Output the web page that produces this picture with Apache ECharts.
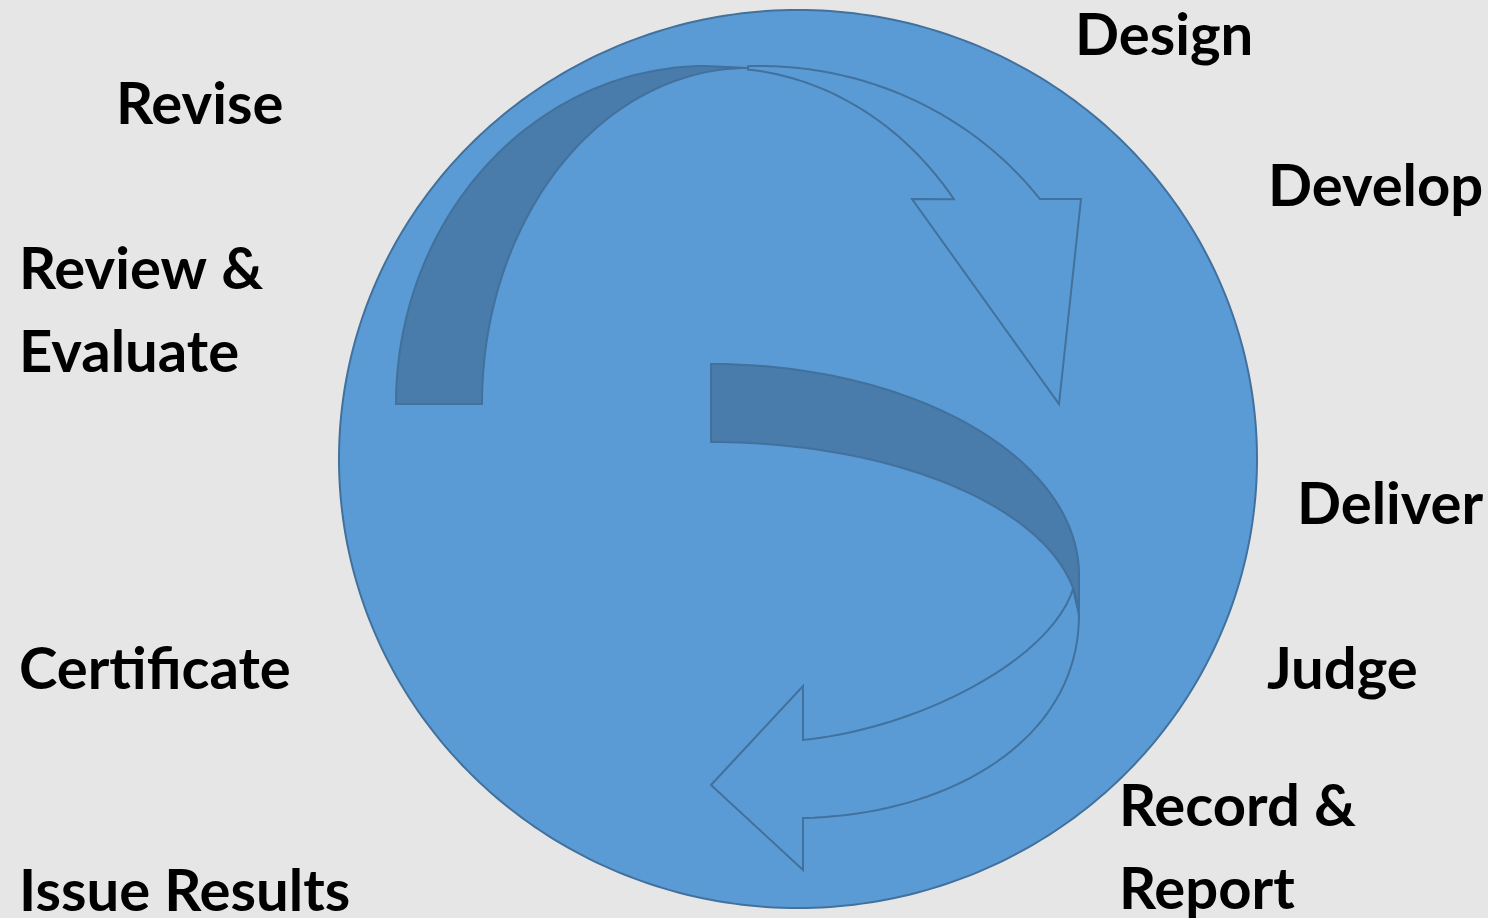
<!DOCTYPE html>
<html>
<head>
<meta charset="utf-8">
<script src="https://cdn.jsdelivr.net/npm/echarts@6/dist/echarts.min.js"></script>
<style>
  html, body { margin: 0; padding: 0; background: #e7e6e6; }
  #main { width: 1488px; height: 918px; }
</style>
</head>
<body>
<div id="main"></div>
<script>
'use strict';
// stage names round the cycle (clockwise from the top)
var stageLabels = ['Design', 'Develop', 'Deliver', 'Judge', 'Record &\nReport',
                   'Issue Results', 'Certificate', 'Review &\nEvaluate', 'Revise'];
// left edge / first baseline of each label, in page pixels
var labelAnchors = [[1075, 56], [1268, 207], [1297, 525], [1267, 690], [1119, 827],
                    [19, 912], [19, 690], [19, 290], [116, 125]];
// shapes of the diagram, drawn in this order
var shapeNames = ['circle', 'topArrowFront', 'topArrowBack', 'lowArrowFront', 'lowArrowBack'];

var FILL = '#5b9bd5', EDGE = '#41719c', SHADE = '#497caa';

// points along an ellipse between two points (cw = clockwise on screen)
function arc(cx, cy, rx, ry, p0, p1, cw, n) {
    n = n || 60;
    var a0 = Math.atan2((p0[1] - cy) / ry, (p0[0] - cx) / rx);
    var a1 = Math.atan2((p1[1] - cy) / ry, (p1[0] - cx) / rx);
    if (cw && a1 <= a0) a1 += Math.PI * 2;
    if (!cw && a1 >= a0) a1 -= Math.PI * 2;
    var pts = [];
    for (var i = 0; i <= n; i++) {
        var a = a0 + (a1 - a0) * i / n;
        pts.push([cx + rx * Math.cos(a), cy + ry * Math.sin(a)]);
    }
    return pts;
}
function ellipse(cx, cy, rx, ry, n) {
    var pts = [];
    for (var i = 0; i < n; i++) {
        var a = Math.PI * 2 * i / n;
        pts.push([cx + rx * Math.cos(a), cy + ry * Math.sin(a)]);
    }
    return pts;
}
function bez(p0, p1, p2, p3, n) {
    n = n || 40;
    var pts = [];
    for (var i = 0; i <= n; i++) {
        var t = i / n, u = 1 - t;
        pts.push([
            u * u * u * p0[0] + 3 * u * u * t * p1[0] + 3 * u * t * t * p2[0] + t * t * t * p3[0],
            u * u * u * p0[1] + 3 * u * u * t * p1[1] + 3 * u * t * t * p2[1] + t * t * t * p3[1]
        ]);
    }
    return pts;
}

var shapes = {
    circle: {
        pts: ellipse(798, 459, 459, 449, 360),
        fill: FILL, stroke: EDGE, width: 2
    },
    topArrowFront: {
        pts: [].concat(
            arc(760, 404, 352, 338, [748, 66], [1040, 199], true),
            [[1081, 199], [1059, 404], [912, 199]],
            arc(720, 404, 295, 336, [954, 199], [748, 69], false)
        ),
        fill: 'rgba(0,0,0,0)', stroke: EDGE, width: 2
    },
    topArrowBack: {
        pts: [].concat(
            arc(706, 404, 310, 338, [396, 404], [706, 66], true),
            arc(748, 404, 266, 336, [748, 68], [482, 404], false)
        ),
        fill: SHADE, stroke: EDGE, width: 2
    },
    lowArrowFront: {
        pts: [].concat(
            bez([1073, 589], [1050, 660], [920, 728], [803, 740]),
            [[803, 686], [711, 785], [803, 870]],
            bez([803, 818], [950, 815], [1079, 740], [1079, 615])
        ),
        fill: 'rgba(0,0,0,0)', stroke: EDGE, width: 2
    },
    lowArrowBack: {
        pts: [].concat(
            arc(711, 575, 368, 211, [711, 364], [1079, 575], true),
            arc(711, 620, 368, 178, [1079, 620], [711, 442], false)
        ),
        fill: SHADE, stroke: EDGE, width: 2
    }
};

var chart = echarts.init(document.getElementById('main'));
var option = {
    backgroundColor: '#e7e6e6',
    animation: false,
    grid: { left: 0, right: 0, top: 0, bottom: 0 },
    xAxis: { type: 'value', min: 0, max: 1488, show: false },
    yAxis: { type: 'value', min: 0, max: 918, inverse: true, show: false },
    series: [{
        type: 'custom',
        data: shapeNames.map(function (n, i) { return [i, i]; }),
        clip: false,
        silent: true,
        renderItem: function (params, api) {
            var s = shapes[shapeNames[params.dataIndex]];
            return {
                type: 'polygon',
                shape: { points: s.pts.map(function (p) { return api.coord(p); }) },
                style: { fill: s.fill, stroke: s.stroke, lineWidth: s.width, lineJoin: 'miter' }
            };
        }
    }],
    graphic: stageLabels.map(function (t, i) {
        return {
            type: 'text',
            x: labelAnchors[i][0],
            y: labelAnchors[i][1] - 61,
            silent: true,
            style: {
                text: t,
                font: 'bold 58px Lato',
                fill: '#000',
                lineHeight: 83,
                align: 'left',
                verticalAlign: 'top'
            }
        };
    })
};
chart.setOption(option);
</script>
</body>
</html>
